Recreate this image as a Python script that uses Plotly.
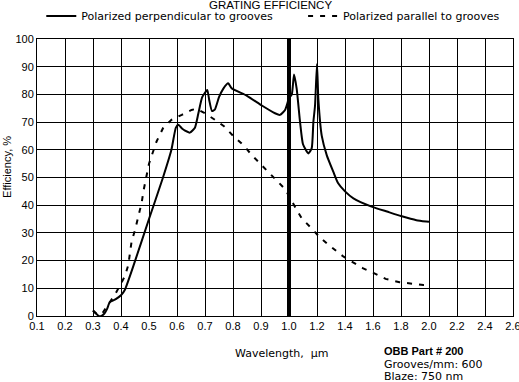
import numpy as np
import plotly.graph_objects as go

# Axis tick wavelengths (non-uniform scale: 0.1 steps up to 1.0, 0.2 steps after)
TICK_WL = [0.1, 0.2, 0.3, 0.4, 0.5, 0.6, 0.7, 0.8, 0.9, 1.0,
           1.2, 1.4, 1.6, 1.8, 2.0, 2.2, 2.4, 2.6]
TICK_TEXT = ["0.1", "0.2", "0.3", "0.4", "0.5", "0.6", "0.7", "0.8", "0.9", "1.0",
             "1.2", "1.4", "1.6", "1.8", "2.0", "2.2", "2.4", "2.6"]
Y_TICKS = [0, 10, 20, 30, 40, 50, 60, 70, 80, 90, 100]
BREAK_WL = 1.0

perp_wl = [0.30, 0.31, 0.32, 0.33, 0.34, 0.35, 0.36, 0.38, 0.40, 0.414, 0.444, 0.50,
           0.55, 0.58, 0.596, 0.605, 0.62, 0.646, 0.664, 0.676, 0.69, 0.708, 0.715,
           0.725, 0.735, 0.75, 0.765, 0.783, 0.795, 0.85, 0.903, 0.95, 0.968, 0.986,
           1.0, 1.02, 1.036, 1.055, 1.079, 1.10, 1.138, 1.162, 1.174, 1.186, 1.20,
           1.21, 1.234, 1.27, 1.317, 1.35, 1.40, 1.46, 1.59, 1.70, 1.80, 1.91, 1.98, 2.0]
perp_eff = [2, 1, 0, 0, 0.8, 2.5, 5, 6, 7.5, 9.5, 18, 35,
            50, 60, 68, 69, 67.5, 66.2, 68, 73, 79, 81.6, 78,
            74, 74.5, 79, 82, 84, 82.2, 79.5, 76, 73.2, 72.6, 74.4,
            78.6, 80, 87.2, 82, 70, 62, 58.7, 60.5, 70, 76, 91,
            78, 65, 58, 52, 48, 45, 42.5, 39.5, 37.7, 36.1, 34.6, 34.1, 34]

par_wl = [0.30, 0.31, 0.33, 0.36, 0.38, 0.396, 0.414, 0.426, 0.432, 0.438, 0.45,
          0.462, 0.474, 0.48, 0.49, 0.50, 0.51, 0.527, 0.55, 0.58, 0.617, 0.652,
          0.67, 0.70, 0.736, 0.769, 0.80, 0.837, 0.867, 0.896, 0.929, 0.96, 0.986,
          1.055, 1.09, 1.162, 1.22, 1.27, 1.34, 1.39, 1.47, 1.53, 1.61, 1.69, 1.79,
          1.88, 1.96, 2.0]
par_eff = [2, 1, 0.5, 5, 8, 11, 14.4, 18.4, 22, 27, 31,
           36, 41, 45, 50, 55, 58, 63, 67.8, 70.8, 72.6, 74.4,
           74.8, 73.2, 70.8, 68.4, 65.1, 61.7, 58.1, 55.1, 51.9, 48.5, 45.8,
           38.3, 35.3, 31.6, 28.4, 26.2, 23.5, 21.4, 19, 17.2, 15.4, 13.4, 12.2,
           11.6, 11.2, 11.2]

TICK_POS = np.arange(len(TICK_WL))


def to_axis(wl):
    return np.interp(np.asarray(wl, dtype=float), TICK_WL, TICK_POS)


ARIAL = "Arial, Liberation Sans, sans-serif"
WIDE = "DejaVu Sans, Verdana, sans-serif"

fig = go.Figure()
fig.add_trace(go.Scatter(
    x=to_axis(perp_wl), y=perp_eff, mode="lines",
    name="Polarized perpendicular to grooves", legend="legend",
    line=dict(color="black", width=2, shape="spline", smoothing=0.5)))
fig.add_trace(go.Scatter(
    x=to_axis(par_wl), y=par_eff, mode="lines",
    name="Polarized parallel to grooves", legend="legend2",
    line=dict(color="black", width=2, dash="5px,7px")))

bx = float(to_axis(BREAK_WL))
fig.add_shape(type="line", xref="x", yref="y", x0=bx, x1=bx, y0=0, y1=100,
              line=dict(color="black", width=4))

legend_common = dict(orientation="h", xanchor="left", y=1.083, yanchor="middle",
                     font=dict(size=11, family=WIDE), itemwidth=30,
                     bgcolor="rgba(0,0,0,0)")

fig.update_layout(
    width=519, height=382,
    margin=dict(l=37, r=6, t=39, b=66, autoexpand=False),
    paper_bgcolor="white", plot_bgcolor="white",
    font=dict(family=ARIAL, size=11, color="black"),
    showlegend=True,
    legend=dict(x=0.009, **legend_common),
    legend2=dict(x=0.559, **legend_common),
    xaxis=dict(range=[0, len(TICK_WL) - 1], tickmode="array",
               tickvals=TICK_POS, ticktext=TICK_TEXT, automargin=False,
               showgrid=True, gridcolor="black", gridwidth=1,
               showline=True, linecolor="black", linewidth=1, mirror=True,
               ticks="", zeroline=False, fixedrange=True,
               ticklabeloverflow="allow", tickfont=dict(size=11)),
    yaxis=dict(range=[0, 100], tickmode="array", tickvals=Y_TICKS, automargin=False,
               showgrid=True, gridcolor="black", gridwidth=1,
               showline=True, linecolor="black", linewidth=1, mirror=True,
               ticks="", zeroline=False, fixedrange=True,
               ticklabeloverflow="allow", tickfont=dict(size=11)),
)

fig.add_annotation(text="Efficiency, %", xref="paper", yref="paper",
                   x=-0.062, y=0.54, textangle=-90, xanchor="center", yanchor="middle",
                   showarrow=False, font=dict(size=11, family=ARIAL))
fig.add_annotation(text="GRATING EFFICIENCY", xref="paper", yref="paper",
                   x=0.49, y=1.122, xanchor="center", yanchor="middle",
                   showarrow=False, font=dict(size=11.5, family=ARIAL))
fig.add_annotation(text="Wavelength,  µm", xref="paper", yref="paper",
                   x=0.513, y=-0.134, xanchor="center", yanchor="middle",
                   showarrow=False, font=dict(size=11, family=WIDE))
info_lines = ["<b>OBB Part # 200</b>", "Grooves/mm: 600", "Blaze: 750 nm"]
info_y = [-0.128, -0.174, -0.218]
info_fonts = [dict(size=11, family=ARIAL), dict(size=11, family=WIDE),
              dict(size=11, family=WIDE)]
for txt, yy, fnt in zip(info_lines, info_y, info_fonts):
    fig.add_annotation(text=txt, xref="paper", yref="paper", x=0.724, y=yy,
                       xanchor="left", yanchor="middle", showarrow=False,
                       font=fnt)

fig.write_html("out.html", post_script="document.body.style.margin='0';",
               config={"displayModeBar": False})
